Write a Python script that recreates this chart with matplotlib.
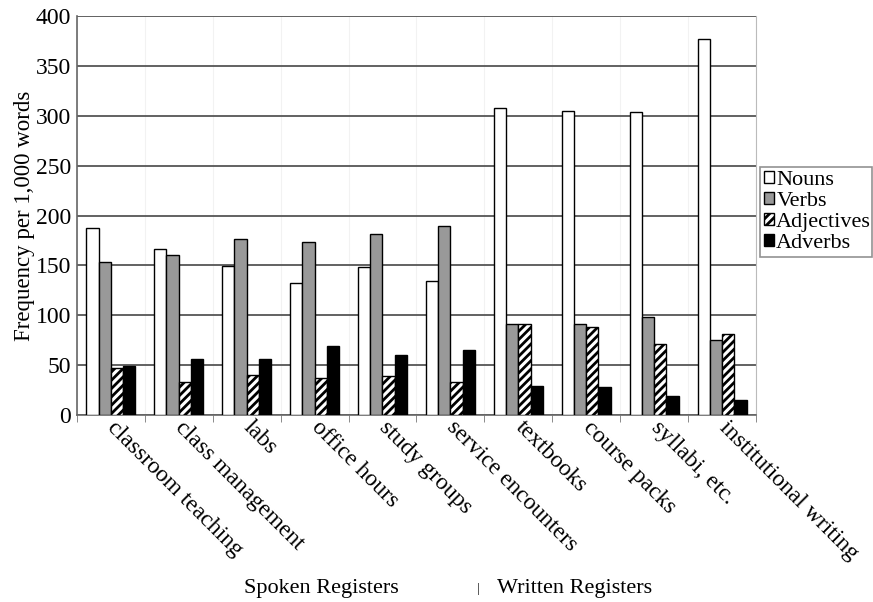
import numpy as np
import matplotlib.pyplot as plt

plt.rcParams['font.family'] = ['Liberation Serif', 'DejaVu Serif']
plt.rcParams['hatch.linewidth'] = 2.0

registers = ['classroom teaching', 'class management', 'labs', 'office hours',
             'study groups', 'service encounters', 'textbooks', 'course packs',
             'syllabi, etc.', 'institutional writing']
nouns = [187, 166, 149, 132, 148, 134, 308, 305, 304, 377]
verbs = [153, 160, 176, 173, 181, 189, 91, 91, 98, 75]
adjectives = [47, 33, 40, 37, 39, 33, 91, 88, 71, 81]
adverbs = [49, 56, 56, 69, 60, 65, 29, 28, 19, 15]

fig = plt.figure(figsize=(8.73, 6.02), dpi=100)
ax = fig.add_axes([0.088, 0.311, 0.778, 0.662])

x = np.arange(len(registers))
w = 0.18
ax.bar(x - 1.5 * w, nouns, w, color='white', edgecolor='black', linewidth=1, label='Nouns', zorder=3)
ax.bar(x - 0.5 * w, verbs, w, color='#999999', edgecolor='black', linewidth=1, label='Verbs', zorder=3)
ax.bar(x + 0.5 * w, adjectives, w, color='white', edgecolor='black', linewidth=1,
       hatch='////', label='Adjectives', zorder=3)
ax.bar(x + 1.5 * w, adverbs, w, color='black', edgecolor='black', linewidth=1, label='Adverbs', zorder=3)

ax.set_xlim(-0.5, len(registers) - 0.5)
ax.set_ylim(0, 400)
ax.set_yticks(range(0, 401, 50))
ax.yaxis.grid(True, color='#555555', linewidth=1.3, zorder=0)
ax.set_axisbelow(True)

# category boundaries
ax.set_xticks(x)
ax.set_xticks(np.arange(-0.5, len(registers)), minor=True)
ax.xaxis.grid(True, which='minor', color='#f2f2f2', linewidth=0.8)
ax.tick_params(axis='x', which='major', length=0, pad=7)
ax.tick_params(axis='x', which='minor', length=5, color='#777777')
ax.tick_params(axis='y', length=0, pad=4, labelsize=17)
ax.set_xticklabels(registers, rotation=-45, ha='left', va='center',
                   rotation_mode='anchor', fontsize=17)

ax.set_ylabel('Frequency per 1,000 words', fontsize=16.5, labelpad=1)

for side in ['left', 'bottom']:
    ax.spines[side].set_color('#666666')
    ax.spines[side].set_linewidth(1.2)
ax.spines['right'].set_color('#bbbbbb')
ax.spines['top'].set_visible(False)

leg = fig.legend(loc='lower left', bbox_to_anchor=(0.8706, 0.573, 0.128, 0.165),
                 mode='expand', fontsize=16, frameon=True, fancybox=False,
                 handlelength=0.45, handleheight=0.45, handletextpad=0.08,
                 labelspacing=0.08, borderpad=0.2, borderaxespad=0)
leg.get_frame().set_edgecolor('#777777')
leg.get_frame().set_linewidth(1.2)

fig.text(0.368, 0.023, 'Spoken Registers', ha='center', va='center', fontsize=16)
fig.text(0.5475, 0.021, '|', ha='center', va='center', fontsize=9)
fig.text(0.569, 0.023, 'Written Registers', ha='left', va='center', fontsize=16)

fig.savefig('out.png', dpi=100)
